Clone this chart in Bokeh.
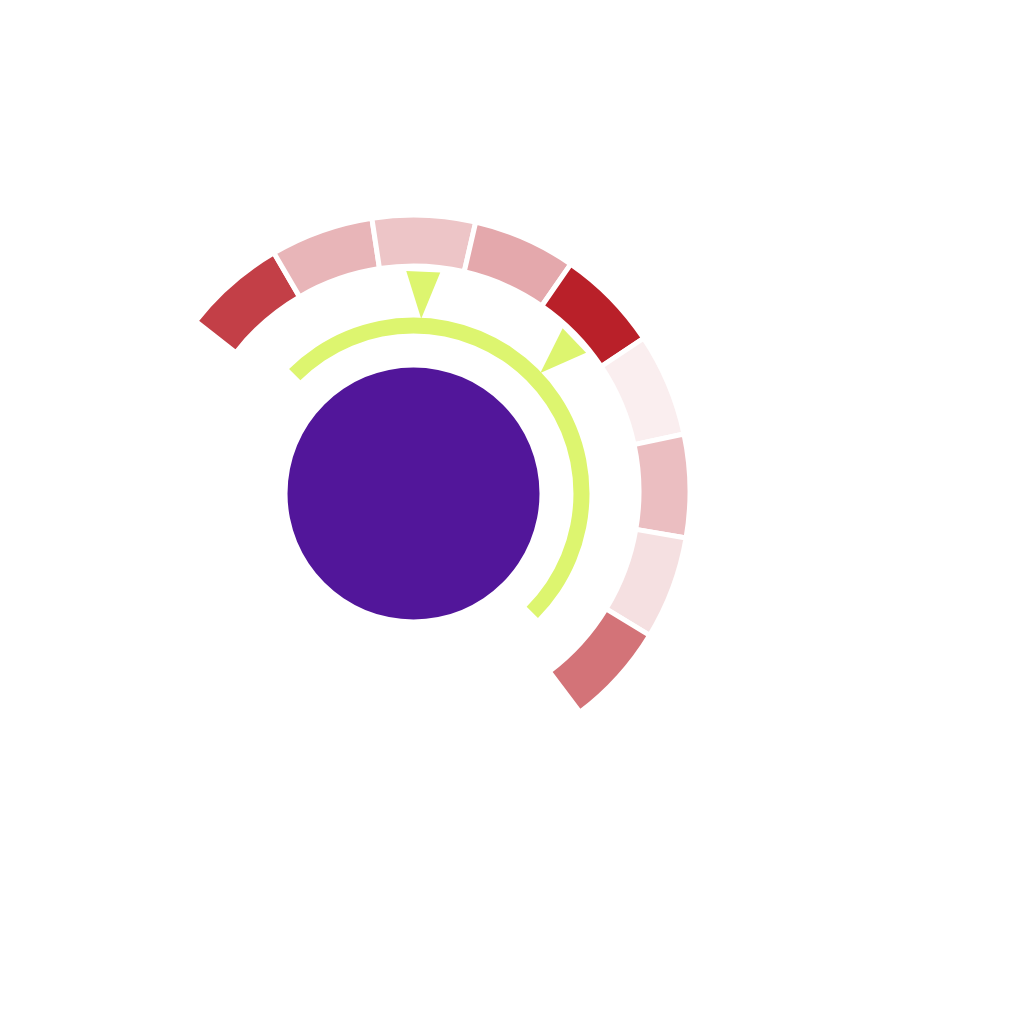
import numpy as np
from bokeh.plotting import figure
from bokeh.embed import file_html
from bokeh.resources import INLINE

# --- data ---
segment_intensity = [0.86, 0.33, 0.26, 0.39, 1.0, 0.075, 0.29, 0.14, 0.63]
segment_start_deg = 142.0
segment_end_deg = -53.0
gauge_start_deg = 135.0
gauge_end_deg = -45.0
gauge_min, gauge_max = 0, 100
pointer_values = [26.4, 50.8]

base_red = (185, 32, 41)

def blend(a):
    r, g, b = [int(round(255 - (255 - c) * a)) for c in base_red]
    return "#%02x%02x%02x" % (r, g, b)

p = figure(width=1000, height=1000, x_range=(-413, 587), y_range=(-507, 493),
           output_backend="svg", toolbar_location=None, min_border=0)
p.axis.visible = False
p.grid.visible = False
p.outline_line_color = None
p.background_fill_color = "white"

n = len(segment_intensity)
edges = np.linspace(segment_start_deg, segment_end_deg, n + 1)
colors = [blend(a) for a in segment_intensity]
p.annular_wedge(x=0, y=2, inner_radius=225.5, outer_radius=276.5,
                start_angle=np.radians(edges[1:]), end_angle=np.radians(edges[:-1]),
                fill_color=colors, line_color="white", line_width=5)

# green gauge arc
p.annular_wedge(x=0, y=0, inner_radius=160, outer_radius=176,
                start_angle=np.radians(gauge_end_deg), end_angle=np.radians(gauge_start_deg),
                fill_color="#ddf56f", line_color=None)

# pointers
xs, ys = [], []
for v in pointer_values:
    ang = np.radians(gauge_start_deg + (v - gauge_min) / (gauge_max - gauge_min) * (gauge_end_deg - gauge_start_deg))
    ux, uy = np.cos(ang), np.sin(ang)
    px, py = -uy, ux
    rb, rt, hw = 222, 175, 17
    xs.append([rb * ux + hw * px, rb * ux - hw * px, rt * ux])
    ys.append([rb * uy + hw * py, rb * uy - hw * py, rt * uy])
p.patches(xs, ys, fill_color="#ddf56f", line_color=None)

# centre
p.circle(x=[0], y=[0], radius=126, fill_color="#52169a", line_color=None)

open("out.html", "w").write(file_html(p, INLINE))
